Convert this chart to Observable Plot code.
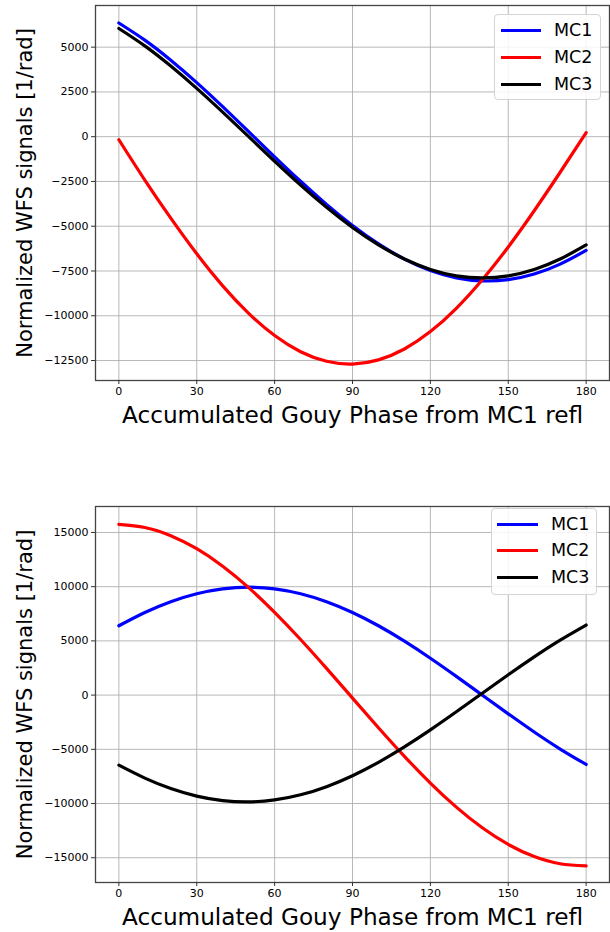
<!DOCTYPE html>
<html>
<head>
<meta charset="utf-8">
<script src="https://cdn.jsdelivr.net/npm/d3@7"></script>
<script src="https://cdn.jsdelivr.net/npm/@observablehq/plot@0.6"></script>
<style>
  html, body { margin: 0; padding: 0; background: #fff; }
  #wrap { position: relative; width: 610px; font-family: "DejaVu Sans", sans-serif; }
  #wrap svg { display: block; }
  .legend { position: absolute; background: rgba(255,255,255,0.85); border: 1px solid #d4d4d4; border-radius: 4px; box-sizing: border-box; }
  .legend .row { position: absolute; left: 0; height: 0; }
  .legend .sw { position: absolute; height: 3px; margin-top: -1.5px; }
  .legend .lab { position: absolute; font-size: 17.5px; line-height: 20px; margin-top: -10px; color: #000; white-space: nowrap; }
</style>
</head>
<body>
<div id="wrap"></div>
<script>
// ---- data ----
const phase = [0, 10, 20, 30, 40, 50, 60, 70, 80, 90, 100, 110, 120, 130, 140, 150, 160, 170, 180];
const seriesNames = ["MC1", "MC2", "MC3"];
const seriesColors = ["#0000ff", "#ff0000", "#000000"];

// top panel
const topMC1 = [6351, 5393, 4271, 3019, 1676, 281, -1122, -2491, -3784, -4963, -5989, -6835, -7473, -7883, -8055, -7982, -7666, -7116, -6351];
const topMC2 = [-170, -2423, -4552, -6541, -8332, -9869, -11107, -12008, -12544, -12697, -12466, -11857, -10886, -9585, -7992, -6157, -4134, -1986, 230];
const topMC3 = [6044, 5072, 3945, 2698, 1370, 0, -1370, -2698, -3945, -5072, -6044, -6833, -7414, -7770, -7890, -7770, -7414, -6833, -6044];

// bottom panel
const botMC1 = [6396, 7622, 8617, 9350, 9799, 9950, 9799, 9350, 8617, 7622, 6396, 4975, 3403, 1727, 0, -1727, -3403, -4975, -6396];
const botMC2 = [15747, 15460, 14704, 13501, 11887, 9911, 7636, 5128, 2463, -275, -3005, -5645, -8111, -10334, -12239, -13775, -14892, -15556, -15747];
const botMC3 = [-6463, -7654, -8615, -9313, -9729, -9848, -9669, -9196, -8443, -7434, -6199, -4775, -3207, -1541, 172, 1879, 3530, 5073, 6463];

// tick labels
const xTicks = [0, 30, 60, 90, 120, 150, 180];
const topYTicks = [-12500, -10000, -7500, -5000, -2500, 0, 2500, 5000];
const botYTicks = [-15000, -10000, -5000, 0, 5000, 10000, 15000];

const xLabel = "Accumulated Gouy Phase from MC1 refl";
const yLabel = "Normalized WFS signals [1/rad]";

// ---- drawing ----
const fmt = d => d < 0 ? "\u2212" + Math.abs(d) : String(d);

function panel(values, yDomain, yTicks, marginTop, marginBottom) {
  const lines = values.map((vals, k) =>
    Plot.line(phase.map((p, i) => ({x: p, y: vals[i]})), {
      x: "x", y: "y", stroke: seriesColors[k], strokeWidth: 3.2, curve: "natural"
    })
  );
  return Plot.plot({
    width: 610,
    height: 466,
    marginLeft: 95,
    marginRight: 1,
    marginTop,
    marginBottom,
    style: {fontFamily: "DejaVu Sans, sans-serif", fontSize: "11px", color: "#000", background: "#fff"},
    x: {domain: [-9, 189]},
    y: {domain: yDomain},
    marks: [
      Plot.gridX(xTicks, {stroke: "#b0b0b0", strokeOpacity: 1, strokeWidth: 0.9}),
      Plot.gridY(yTicks, {stroke: "#b0b0b0", strokeOpacity: 1, strokeWidth: 0.9}),
      ...lines,
      Plot.frame({stroke: "#444", strokeWidth: 1.3}),
      Plot.axisX(xTicks, {tickSize: 4, tickPadding: 3, label: null, tickFormat: d => String(d), fontSize: 11, stroke: "#333"}),
      Plot.axisY(yTicks, {tickSize: 4, tickPadding: 3, label: null, tickFormat: fmt, fontSize: 11, stroke: "#333"}),
      Plot.text([xLabel], {frameAnchor: "bottom", dy: 35, fontSize: 23.2, lineAnchor: "middle", textAnchor: "middle", fill: "#000"}),
      Plot.text([yLabel], {frameAnchor: "left", dx: -70, rotate: -90, fontSize: 21, lineAnchor: "middle", textAnchor: "middle", fill: "#000"})
    ]
  });
}

function legend(box) {
  const div = document.createElement("div");
  div.className = "legend";
  Object.assign(div.style, {left: box.left + "px", top: box.top + "px", width: box.width + "px", height: box.height + "px"});
  seriesNames.forEach((name, k) => {
    const row = document.createElement("div");
    row.className = "row";
    row.style.top = (box.rows[k] - box.top) + "px";
    const sw = document.createElement("div");
    sw.className = "sw";
    Object.assign(sw.style, {left: (box.lineX0 - box.left) + "px", width: (box.lineX1 - box.lineX0) + "px", background: seriesColors[k]});
    const lab = document.createElement("div");
    lab.className = "lab";
    lab.style.left = (box.textX - box.left) + "px";
    lab.textContent = name;
    row.appendChild(sw);
    row.appendChild(lab);
    div.appendChild(row);
  });
  return div;
}

const wrap = document.getElementById("wrap");
wrap.appendChild(panel([topMC1, topMC2, topMC3], [-13616, 7327], topYTicks, 5, 86));
wrap.appendChild(panel([botMC1, botMC2, botMC3], [-17283, 17394], botYTicks, 40, 50));
wrap.appendChild(legend({left: 494, top: 14, width: 107, height: 86, rows: [29, 56, 83], lineX0: 500, lineX1: 540, textX: 553}));
wrap.appendChild(legend({left: 491, top: 508, width: 106, height: 87, rows: [523, 549, 576], lineX0: 496, lineX1: 537, textX: 550}));
</script>
</body>
</html>
